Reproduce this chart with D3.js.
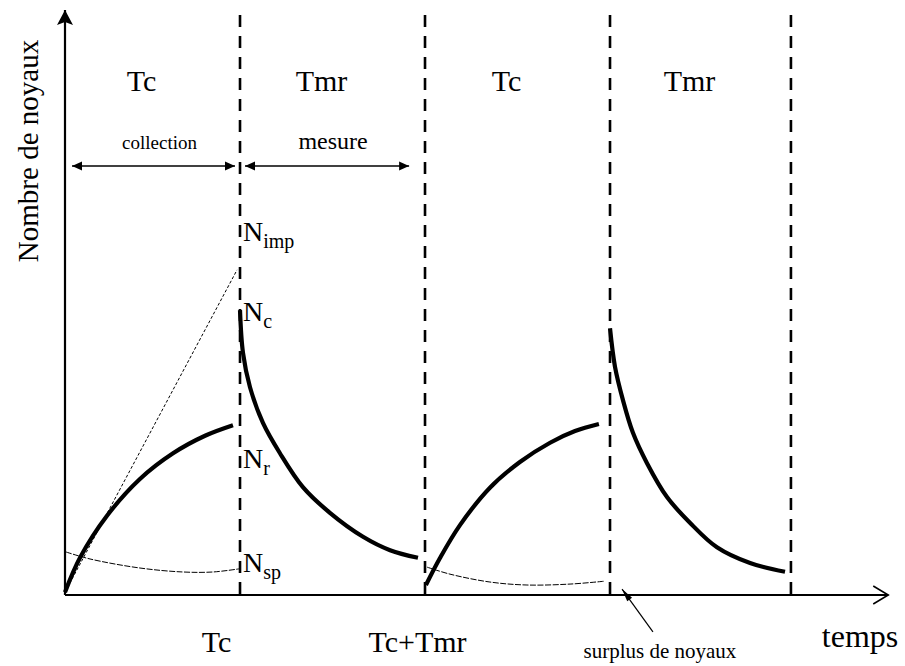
<!DOCTYPE html>
<html><head><meta charset="utf-8">
<script src="https://cdn.jsdelivr.net/npm/d3@7"></script>
<style>
html,body{margin:0;padding:0;background:#fff;}
svg{display:block;}
text{font-family:"Liberation Serif","Times New Roman",Times,serif;}
</style>
</head><body>
<svg id="chart" width="905" height="666"></svg>
<script>
// ---------- data (time in arbitrary units, number of nuclei in arbitrary units) ----------
const boundaries = [9.46, 19.46, 29.46, 39.24];
const periodLabels = ["Tc", "Tmr", "Tc", "Tmr"];
const tickTimes = [9.46, 19.46];
const tickLabels = ["Tc", "Tc+Tmr"];
const spanLabels = ["collection", "mesure"];
const spanTimes = [[0.38, 9.19], [9.73, 18.6]];
const spanLevel = 73.3;

const rise1 = [[0, 0.3], [0.81, 6.2], [2.27, 13.4], [4.05, 19.7], [5.84, 24.1], [7.57, 27.1], [9.08, 28.9]];
const decay1 = [[9.46, 48.6], [9.62, 41.3], [10.0, 35.4], [10.70, 29.3], [11.62, 24.1], [12.86, 18.3], [14.32, 13.9], [16.11, 9.8], [17.57, 7.5], [19.08, 6.2]];
const rise2 = [[19.51, 1.54], [20.27, 6.16], [21.35, 11.8], [22.97, 18.2], [24.59, 22.6], [26.22, 25.9], [27.57, 27.9], [28.86, 29.1]];
const decay2 = [[29.46, 45.5], [29.73, 38.9], [30.16, 33.2], [30.70, 27.6], [31.46, 22.4], [32.54, 16.6], [33.78, 12.2], [35.24, 8.0], [37.03, 5.3], [38.92, 3.8]];
const spont1 = [[0.05, 7.2], [1.35, 6.0], [4.05, 4.45], [6.38, 3.77], [8.0, 3.77], [9.4, 4.3]];
const spont2 = [[19.57, 4.6], [20.81, 3.4], [22.97, 2.05], [24.97, 1.54], [27.3, 1.7], [29.19, 2.2]];
const tangent = [[0, 0.3], [9.3, 55.5]];

const nLabelMain = ["N", "N", "N", "N"];
const nLabelSub = ["imp", "c", "r", "sp"];
const nLabelLevels = [60.4, 46.7, 21.6, 3.8];

const surplusLabel = "surplus de noyaux";
const surplusArrow = [[31.78, -6.5], [30.11, 0.85]];
const xAxisTitle = "temps";
const yAxisTitle = "Nombre de noyaux";

// ---------- drawing ----------
const FONT = "Liberation Serif, Times New Roman, Times, serif";
const svg = d3.select("#chart");
svg.append("rect").attr("width", 905).attr("height", 666).attr("fill", "#fff");

const x = d3.scaleLinear().domain([0, 44.5]).range([65, 888.25]);
const y = d3.scaleLinear().domain([0, 100]).range([594, 10]);

const defs = svg.append("defs");
defs.append("marker").attr("id", "bigArrow")
  .attr("viewBox", "-16 -9 17 18").attr("refX", 0).attr("refY", 0)
  .attr("markerWidth", 17).attr("markerHeight", 18)
  .attr("markerUnits", "userSpaceOnUse").attr("orient", "auto")
  .append("path").attr("d", "M0,0 L-15,-8 L-12,0 L-15,8 Z").attr("fill", "#000");
defs.append("marker").attr("id", "smallArrow")
  .attr("viewBox", "-11 -5 12 10").attr("refX", 0).attr("refY", 0)
  .attr("markerWidth", 12).attr("markerHeight", 10)
  .attr("markerUnits", "userSpaceOnUse").attr("orient", "auto-start-reverse")
  .append("path").attr("d", "M0,0 L-10,-4.5 L-10,4.5 Z").attr("fill", "#000");
defs.append("marker").attr("id", "thinArrow")
  .attr("viewBox", "-14 -4 15 8").attr("refX", 0).attr("refY", 0)
  .attr("markerWidth", 15).attr("markerHeight", 8)
  .attr("markerUnits", "userSpaceOnUse").attr("orient", "auto")
  .append("path").attr("d", "M0,0 L-13,-3 L-13,3 Z").attr("fill", "#000");
defs.append("marker").attr("id", "openArrow")
  .attr("viewBox", "-17 -11 19 22").attr("refX", 0).attr("refY", 0)
  .attr("markerWidth", 19).attr("markerHeight", 22)
  .attr("markerUnits", "userSpaceOnUse").attr("orient", "auto")
  .append("path").attr("d", "M-15,-9 L0,0 L-15,9").attr("fill", "none")
  .attr("stroke", "#000").attr("stroke-width", 1.6);

// vertical dashed boundaries
svg.append("g").selectAll("line").data(boundaries).join("line")
  .attr("x1", d => x(d)).attr("x2", d => x(d))
  .attr("y1", y(0)).attr("y2", y(99.5))
  .attr("stroke", "#000").attr("stroke-width", 2.6)
  .attr("stroke-dasharray", "12,9");

// y axis line with arrow
svg.append("line")
  .attr("x1", x(0)).attr("x2", x(0)).attr("y1", y(0) + 1).attr("y2", y(100))
  .attr("stroke", "#000").attr("stroke-width", 2.2)
  .attr("marker-end", "url(#bigArrow)");

// x axis with tick labels
const xAxis = svg.append("g").attr("transform", `translate(0,${y(0)})`)
  .call(d3.axisBottom(x).tickValues(tickTimes).tickFormat((d, i) => tickLabels[i]).tickSize(0));
xAxis.attr("font-family", FONT);
xAxis.select(".domain").remove();
const tickDx = [-24, -8];
xAxis.selectAll(".tick text")
  .attr("y", 58).attr("dy", 0).attr("dx", (d, i) => tickDx[i])
  .attr("font-family", FONT).attr("font-size", 30)
  .attr("fill", "#000").attr("text-anchor", "middle");
svg.append("line")
  .attr("x1", x(0)).attr("x2", x.range()[1]).attr("y1", y(0) + 1).attr("y2", y(0) + 1)
  .attr("stroke", "#000").attr("stroke-width", 2)
  .attr("marker-end", "url(#openArrow)");

// axis titles
svg.append("text").text(xAxisTitle)
  .attr("x", x.range()[1] + 10).attr("y", y(0) + 53)
  .attr("text-anchor", "end").attr("font-size", 32).attr("font-family", FONT);
svg.append("text").text(yAxisTitle)
  .attr("transform", "translate(38,151) rotate(-90)")
  .attr("text-anchor", "middle").attr("font-size", 29).attr("font-family", FONT);

// period labels
const starts = [0].concat(boundaries.slice(0, -1));
svg.append("g").selectAll("text").data(periodLabels).join("text")
  .text(d => d)
  .attr("x", (d, i) => (x(starts[i]) + x(boundaries[i])) / 2 - 11)
  .attr("y", 91)
  .attr("text-anchor", "middle").attr("font-size", 30).attr("font-family", FONT);

// span double arrows
const spanSizes = [19, 24];
spanTimes.forEach((s, i) => {
  svg.append("line")
    .attr("x1", x(s[0])).attr("x2", x(s[1]))
    .attr("y1", y(spanLevel)).attr("y2", y(spanLevel))
    .attr("stroke", "#000").attr("stroke-width", 1.5)
    .attr("marker-start", "url(#smallArrow)").attr("marker-end", "url(#smallArrow)");
  svg.append("text").text(spanLabels[i])
    .attr("x", (x(s[0]) + x(s[1])) / 2 + 6)
    .attr("y", y(spanLevel) - 17)
    .attr("text-anchor", "middle").attr("font-size", spanSizes[i]).attr("font-family", FONT);
});

// curves
const line = d3.line().x(d => x(d[0])).y(d => y(d[1])).curve(d3.curveCatmullRom.alpha(0.5));
const straight = d3.line().x(d => x(d[0])).y(d => y(d[1]));

svg.append("path").attr("d", straight(tangent))
  .attr("fill", "none").attr("stroke", "#000").attr("stroke-width", 1)
  .attr("stroke-dasharray", "3,2");

[spont1, spont2].forEach(c => {
  svg.append("path").attr("d", line(c))
    .attr("fill", "none").attr("stroke", "#000").attr("stroke-width", 1)
    .attr("stroke-dasharray", "6,1.5");
});

[rise1, decay1, rise2, decay2].forEach(c => {
  svg.append("path").attr("d", line(c))
    .attr("fill", "none").attr("stroke", "#000").attr("stroke-width", 4.2)
    .attr("stroke-linecap", "butt");
});

// N labels
nLabelSub.forEach((sub, i) => {
  const t = svg.append("text")
    .attr("x", x(boundaries[0]) + 3).attr("y", y(nLabelLevels[i]))
    .attr("font-size", 28).attr("font-family", FONT);
  t.append("tspan").text(nLabelMain[i]);
  t.append("tspan").text(sub).attr("font-size", 20).attr("dy", 7);
});

// surplus annotation
svg.append("path").attr("d", straight(surplusArrow))
  .attr("fill", "none").attr("stroke", "#000").attr("stroke-width", 1.2)
  .attr("marker-end", "url(#thinArrow)");
svg.append("text").text(surplusLabel)
  .attr("x", x(surplusArrow[0][0]) + 7).attr("y", y(surplusArrow[0][1]) + 26)
  .attr("text-anchor", "middle").attr("font-size", 21).attr("font-family", FONT);
</script>
</body></html>
